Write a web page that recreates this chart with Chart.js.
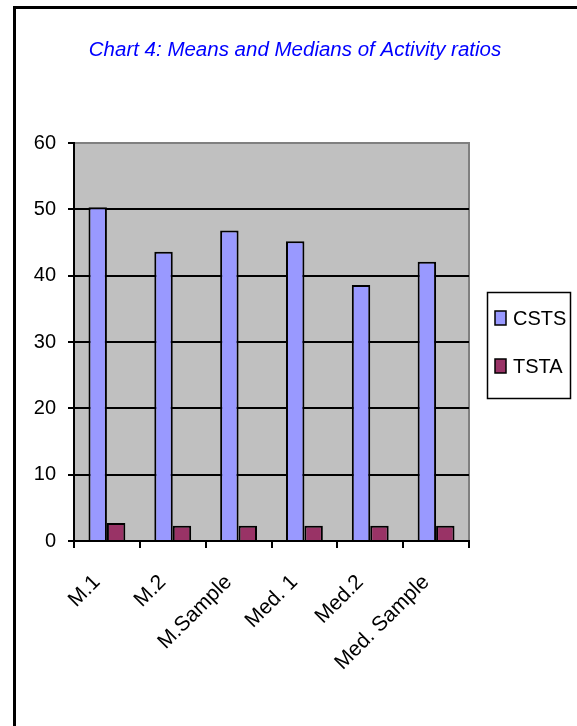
<!DOCTYPE html>
<html>
<head>
<meta charset="utf-8">
<script src="https://cdn.jsdelivr.net/npm/chart.js@4/dist/chart.umd.min.js"></script>
<style>
  html, body { margin: 0; padding: 0; background: #fff; }
  #frame {
    position: absolute; left: 13px; top: 6px; width: 561px; height: 740px;
    border-left: 3px solid #000; border-top: 3px solid #000; border-right: 2px solid #333;
  }
  #wrap { position: absolute; left: 0; top: 0; width: 577px; height: 726px; }
</style>
</head>
<body>
<div id="frame"></div>
<div id="wrap"><canvas id="chart" width="577" height="726"></canvas></div>
<script>
// Chart 4: means and medians of activity ratios
const categories = ['M.1', 'M.2', 'M.Sample', 'Med. 1', 'Med.2', 'Med. Sample'];
const cstsValues = [50.3, 43.6, 46.8, 45.2, 38.6, 42.1];
const tstaValues = [2.7, 2.3, 2.3, 2.3, 2.3, 2.3];
const yTicks = [0, 10, 20, 30, 40, 50, 60];

const FONT = "'Liberation Sans', Arial, sans-serif";

// grey plot background with grey top/right border
const plotBg = {
  id: 'plotBg',
  beforeDraw(chart) {
    const { ctx, chartArea: a } = chart;
    ctx.save();
    ctx.fillStyle = '#c0c0c0';
    ctx.fillRect(a.left, a.top, a.right - a.left, a.bottom - a.top);
    ctx.strokeStyle = '#808080';
    ctx.lineWidth = 2;
    ctx.beginPath();
    ctx.moveTo(a.left, a.top);
    ctx.lineTo(a.right, a.top);
    ctx.lineTo(a.right, a.bottom);
    ctx.stroke();
    ctx.restore();
  }
};

// title and boxed legend, drawn by hand
const extras = {
  id: 'extras',
  afterDraw(chart) {
    const { ctx } = chart;
    ctx.save();
    ctx.fillStyle = '#0000ff';
    ctx.font = 'italic 20.5px ' + FONT;
    ctx.textAlign = 'center';
    ctx.textBaseline = 'middle';
    ctx.fillText('Chart 4: Means and Medians of Activity ratios', 295, 50);

    // legend box
    ctx.strokeStyle = '#000';
    ctx.lineWidth = 1.5;
    ctx.strokeRect(487.5, 292.5, 83, 106);
    ctx.font = '20px ' + FONT;
    ctx.textAlign = 'left';
    chart.data.datasets.forEach((ds, i) => {
      const cy = 318 + i * 48;
      ctx.fillStyle = ds.backgroundColor;
      ctx.fillRect(495, cy - 7, 11, 14);
      ctx.lineWidth = 1.5;
      ctx.strokeRect(495, cy - 7, 11, 14);
      ctx.fillStyle = '#000';
      ctx.fillText(ds.label, 513, cy + 1);
    });
    ctx.restore();
  }
};

new Chart(document.getElementById('chart'), {
  type: 'bar',
  data: {
    labels: categories,
    datasets: [
      { label: 'CSTS', data: cstsValues, backgroundColor: '#9999ff', borderColor: '#000', borderWidth: 2 },
      { label: 'TSTA', data: tstaValues, backgroundColor: '#993366', borderColor: '#000', borderWidth: 2 }
    ]
  },
  options: {
    responsive: false,
    animation: false,
    layout: { padding: { top: 143, right: 108, left: 0, bottom: 0 } },
    datasets: { bar: { categoryPercentage: 0.56, barPercentage: 1 } },
    plugins: {
      legend: { display: false },
      title: { display: false },
      tooltip: { enabled: false }
    },
    scales: {
      x: {
        afterFit(scale) { scale.height = 185; },
        grid: { drawOnChartArea: false, drawTicks: true, tickLength: 7, color: '#000', lineWidth: 2, offset: true },
        border: { color: '#000', width: 2 },
        ticks: {
          color: '#000', font: { family: FONT, size: 21 },
          maxRotation: 45, minRotation: 45, autoSkip: false, padding: 22, labelOffset: -10
        }
      },
      y: {
        min: 0, max: 60,
        afterFit(scale) { scale.width = 74; },
        afterBuildTicks(scale) { scale.ticks = yTicks.map(v => ({ value: v })); },
        grid: {
          color: ctx => (ctx.tick && ctx.tick.value === 60 ? '#808080' : '#000'),
          tickColor: '#000', lineWidth: 2, tickLength: 6
        },
        border: { color: '#000', width: 2 },
        ticks: { color: '#000', font: { family: FONT, size: 20 }, padding: 12 }
      }
    }
  },
  plugins: [plotBg, extras]
});
</script>
</body>
</html>
